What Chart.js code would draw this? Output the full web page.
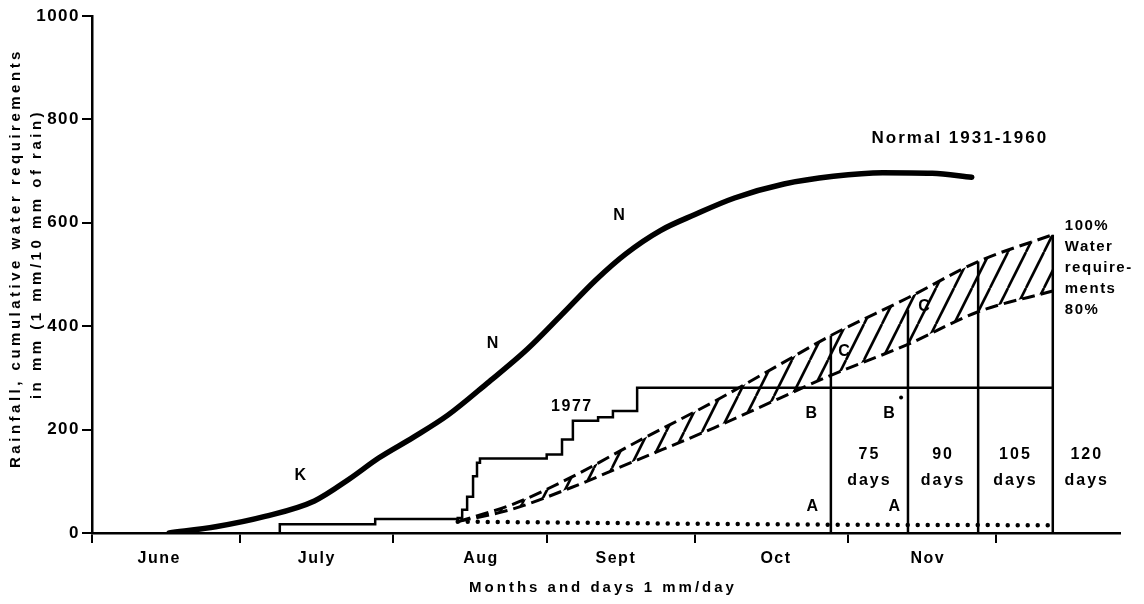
<!DOCTYPE html>
<html>
<head>
<meta charset="utf-8">
<script src="https://cdn.jsdelivr.net/npm/chart.js@4.4.1/dist/chart.umd.min.js"></script>
<style>
    html, body { margin: 0; padding: 0; background: #fff; }
    #contenedor { width: 1144px; height: 604px; }
</style>
</head>
<body>
<div id="contenedor"><canvas id="grafico-lluvia"></canvas></div>
<script>
// dias contados desde el 1 de junio
var mesesTicks = [0, 30, 61, 92, 122, 153, 183];
var mesesCentro = [13.6, 45.5, 78.7, 106, 138.4, 169.1];
var mesesNombres = ['June', 'July', 'Aug', 'Sept', 'Oct', 'Nov'];
var ticksY = [0, 200, 400, 600, 800, 1000];

// lluvia normal acumulada 1931-1960
var normalDias = [15.6, 25, 35, 45, 52, 58, 65, 72, 80, 88, 95, 102, 108, 115, 122, 130, 140, 150, 160, 170, 178];
var normalMm = [0, 12, 32, 62, 104, 145, 185, 228, 290, 355, 422, 490, 540, 585, 616, 648, 675, 690, 697, 696, 688];

// lluvia acumulada 1977 (escalones)
var dias1977 = [38, 38, 57.3, 74, 74.9, 75.9, 77.1, 77.9, 78.5, 92, 95.1, 97.3, 102.4, 105.4, 110.3, 194.4];
var mm1977 = [0, 17, 27, 29, 45, 70, 110, 136, 144, 152, 181, 217, 224, 236, 281, 281];

// linea de puntos
var puntosDias = [74, 120, 150, 194.4];
var puntosMm = [22, 18, 16, 15];

// necesidades de agua acumuladas
var necDias = [74, 85, 97, 110, 126, 139, 149.5, 165.1, 179.3, 194.4];
var nec100 = [22, 55, 108, 175, 255, 325, 382, 455, 525, 577];
var nec80 = [22, 46, 88, 140, 204, 260, 305, 365, 428, 468];

// ciclos de 75, 90, 105 y 120 dias
var ciclosDias = [149.5, 165.1, 179.3, 194.4];
var ciclosTope = [382, 432, 525, 577];
var ciclosNombres = ['75', '90', '105', '120'];

function puntos(xs, ys) {
    var res = [];
    for (var i = 0; i < xs.length; i++) {
        res.push({ x: xs[i], y: ys[i] });
    }
    return res;
}

// trama rayada entre 80% y 100%
function crearRayado() {
    var c = document.createElement('canvas');
    c.width = 18;
    c.height = 36;
    var g = c.getContext('2d');
    g.strokeStyle = '#000';
    g.lineWidth = 2.6;
    for (var k = -1; k <= 1; k++) {
        g.beginPath();
        g.moveTo(k * 18, 36);
        g.lineTo(k * 18 + 18, 0);
        g.stroke();
    }
    return g.createPattern(c, 'repeat');
}

var fuente = '"Liberation Sans", Arial, sans-serif';

var datasets = [{
    label: 'Normal 1931-1960',
    data: puntos(normalDias, normalMm),
    borderColor: '#000',
    borderWidth: 5.5,
    borderCapStyle: 'round',
    cubicInterpolationMode: 'monotone',
    pointRadius: 0,
    fill: false
}, {
    label: '1977',
    data: puntos(dias1977, mm1977),
    borderColor: '#000',
    borderWidth: 2.5,
    stepped: true,
    pointRadius: 0,
    fill: false
}, {
    label: '1 mm/day',
    data: puntos(puntosDias, puntosMm),
    borderColor: '#000',
    borderWidth: 4.5,
    borderDash: [0, 10],
    borderCapStyle: 'round',
    pointRadius: 0,
    fill: false
}, {
    label: '80%',
    data: puntos(necDias, nec80),
    borderColor: '#000',
    borderWidth: 3,
    borderDash: [13, 6],
    cubicInterpolationMode: 'monotone',
    pointRadius: 0,
    fill: false
}, {
    label: '100%',
    data: puntos(necDias, nec100),
    borderColor: '#000',
    borderWidth: 3,
    borderDash: [13, 6],
    cubicInterpolationMode: 'monotone',
    pointRadius: 0,
    fill: '-1',
    backgroundColor: crearRayado()
}];

for (var i = 0; i < ciclosDias.length; i++) {
    datasets.push({
        label: ciclosNombres[i] + ' days',
        data: [{ x: ciclosDias[i], y: 0 }, { x: ciclosDias[i], y: ciclosTope[i] }],
        borderColor: '#000',
        borderWidth: 2.5,
        pointRadius: 0,
        fill: false
    });
}

// textos sobre el grafico, en coordenadas de los ejes
var textos = [
    { t: 'K', x: 42.3, y: 112 },
    { t: 'N', x: 81.2, y: 366 },
    { t: 'N', x: 106.8, y: 613 },
    { t: '1977', x: 97.1, y: 245 },
    { t: 'B', x: 145.7, y: 230 },
    { t: 'B', x: 161.4, y: 230 },
    { t: 'A', x: 145.9, y: 51 },
    { t: 'A', x: 162.5, y: 51 },
    { t: 'C', x: 152.3, y: 350 },
    { t: 'C', x: 168.5, y: 438 }
];

var textosPlugin = {
    id: 'textos',
    beforeDraw: function (chart) {
        chart.ctx.letterSpacing = '1.5px';
    },
    afterDatasetsDraw: function (chart) {
        var ctx = chart.ctx;
        var sx = chart.scales.x;
        var sy = chart.scales.y;
        ctx.save();
        ctx.fillStyle = '#000';
        ctx.font = 'bold 16px ' + fuente;
        ctx.letterSpacing = '1.5px';
        ctx.textAlign = 'center';
        ctx.textBaseline = 'middle';
        textos.forEach(function (e) {
            ctx.fillText(e.t, sx.getPixelForValue(e.x), sy.getPixelForValue(e.y));
        });
        // punto junto a la segunda B
        ctx.beginPath();
        ctx.arc(sx.getPixelForValue(163.7), sy.getPixelForValue(262), 2, 0, Math.PI * 2);
        ctx.fill();

        // rotulos de los ciclos, entre una linea y la siguiente
        ctx.letterSpacing = '2px';
        for (var i = 0; i < ciclosDias.length; i++) {
            var x0 = sx.getPixelForValue(ciclosDias[i]);
            var xc = i < ciclosDias.length - 1 ? (x0 + sx.getPixelForValue(ciclosDias[i + 1])) / 2 : x0 + 34;
            ctx.fillText(ciclosNombres[i], xc, sy.getPixelForValue(152));
            ctx.fillText('days', xc, sy.getPixelForValue(102));
        }

        ctx.font = 'bold 17px ' + fuente;
        ctx.fillText('Normal 1931-1960', sx.getPixelForValue(175.6), sy.getPixelForValue(763));

        // necesidades de agua
        ctx.font = 'bold 15px ' + fuente;
        ctx.letterSpacing = '1.5px';
        ctx.textAlign = 'left';
        var xr = sx.getPixelForValue(ciclosDias[3]) + 12;
        ['100%', 'Water', 'require-', 'ments', '80%'].forEach(function (t, k) {
            ctx.fillText(t, xr, sy.getPixelForValue(595) + k * 21);
        });
        ctx.restore();
    },
    afterDraw: function (chart) {
        // titulos de los ejes
        var ctx = chart.ctx;
        var area = chart.chartArea;
        ctx.save();
        ctx.fillStyle = '#000';
        ctx.font = 'bold 15px ' + fuente;
        ctx.letterSpacing = '3px';
        ctx.textAlign = 'center';
        ctx.textBaseline = 'middle';
        ctx.fillText('Months and days 1 mm/day', area.left + 511, 588);
        ctx.letterSpacing = '3.5px';
        ctx.translate(0, area.top + 242);
        ctx.rotate(-Math.PI / 2);
        ctx.fillText('Rainfall, cumulative water requirements', 0, 16);
        ctx.fillText('in mm (1 mm/10 mm of rain)', 4, 37);
        ctx.restore();
    }
};

const ctx = document.getElementById('grafico-lluvia');
var grafico = new Chart(ctx, {
    type: 'line',
    data: { datasets: datasets },
    plugins: [textosPlugin],
    options: {
        responsive: true,
        maintainAspectRatio: false,
        animation: false,
        layout: { padding: { top: 16, right: 24, left: 0, bottom: 0 } },
        plugins: {
            legend: { display: false },
            tooltip: { enabled: false }
        },
        scales: {
            x: {
                type: 'linear',
                position: 'bottom',
                min: 0,
                max: 208,
                afterBuildTicks: function (scale) {
                    scale.ticks = mesesTicks.map(function (v) { return { value: v }; });
                },
                afterFit: function (scale) { scale.height = 12; },
                ticks: { display: false },
                grid: { drawOnChartArea: false, drawTicks: true, tickLength: 10, color: '#000', lineWidth: 2 },
                border: { display: true, color: '#000', width: 2.5 }
            },
            meses: {
                type: 'linear',
                position: 'bottom',
                min: 0,
                max: 208,
                afterBuildTicks: function (scale) {
                    scale.ticks = mesesCentro.map(function (v) { return { value: v }; });
                },
                afterFit: function (scale) { scale.height = 59; },
                ticks: {
                    color: '#000',
                    padding: 4,
                    maxRotation: 0,
                    autoSkip: false,
                    font: { family: fuente, size: 16, weight: 'bold' },
                    callback: function (v, i) { return mesesNombres[i]; }
                },
                grid: { display: false, drawTicks: false },
                border: { display: false }
            },
            y: {
                type: 'linear',
                min: 0,
                max: 1000,
                afterBuildTicks: function (scale) {
                    scale.ticks = ticksY.map(function (v) { return { value: v }; });
                },
                afterFit: function (scale) { scale.width = 92; },
                ticks: {
                    color: '#000',
                    padding: 2,
                    font: { family: fuente, size: 17, weight: 'bold' },
                    callback: function (v) { return String(v); }
                },
                grid: { drawOnChartArea: false, drawTicks: true, tickLength: 10, color: '#000', lineWidth: 2 },
                border: { display: true, color: '#000', width: 2.5 }
            }
        }
    }
});
</script>
</body>
</html>
